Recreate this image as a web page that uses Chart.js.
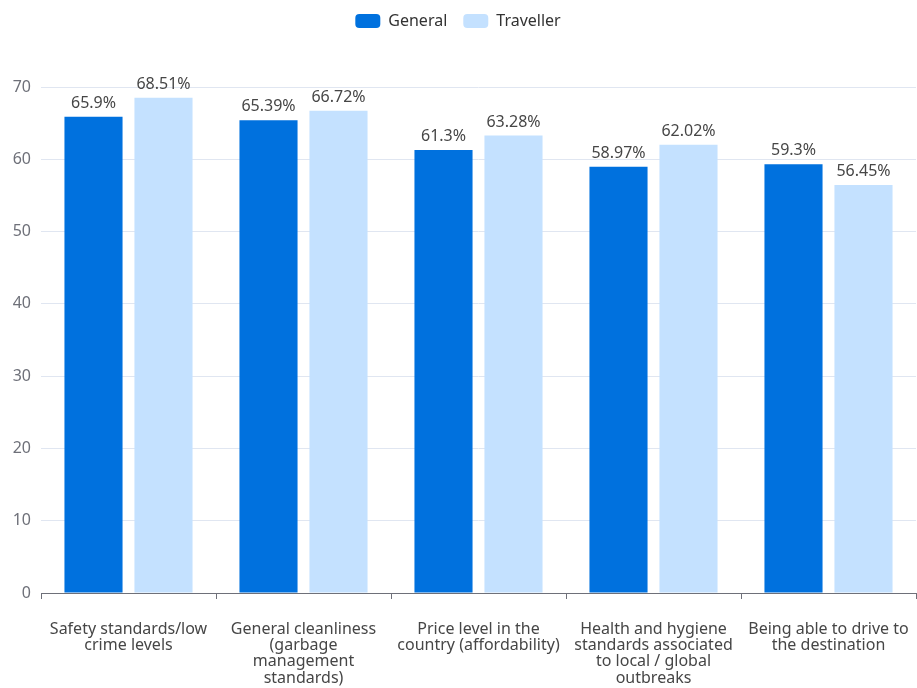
<!DOCTYPE html>
<html>
<head>
<meta charset="utf-8">
<script src="https://cdn.jsdelivr.net/npm/chart.js@4.4.1/dist/chart.umd.min.js"></script>
<style>
  html, body { margin: 0; padding: 0; background: #fff; }
  #wrap { width: 917px; height: 688px; }
</style>
</head>
<body>
<div id="wrap"><canvas id="barChart"></canvas></div>
<script>
var categorias = [
    ['Safety standards/low', 'crime levels'],
    ['General cleanliness', '(garbage', 'management', 'standards)'],
    ['Price level in the', 'country (affordability)'],
    ['Health and hygiene', 'standards associated', 'to local / global', 'outbreaks'],
    ['Being able to drive to', 'the destination']
];
var general   = [65.9, 65.39, 61.3, 58.97, 59.3];
var traveller = [68.51, 66.72, 63.28, 62.02, 56.45];
var ticksY    = [0, 10, 20, 30, 40, 50, 60, 70];

var fuente = '"Noto Sans", sans-serif';

// etiquetas de valor encima de cada barra
var etiquetasValor = {
    id: 'etiquetasValor',
    afterDatasetsDraw: function(chart) {
        var ctx = chart.ctx;
        ctx.save();
        ctx.font = '16px ' + fuente;
        ctx.fillStyle = '#464646';
        ctx.textAlign = 'center';
        ctx.textBaseline = 'alphabetic';
        chart.data.datasets.forEach(function(ds, i) {
            var meta = chart.getDatasetMeta(i);
            meta.data.forEach(function(bar, j) {
                ctx.fillText(ds.data[j] + '%', bar.x, bar.y - 9);
            });
        });
        ctx.restore();
    }
};

// espacio extra debajo de la leyenda
var margenLeyenda = {
    id: 'margenLeyenda',
    beforeInit: function(chart) {
        var fitOriginal = chart.legend.fit;
        chart.legend.fit = function() {
            fitOriginal.call(this);
            this.height += 48;
        };
    }
};

function generarGrafica() {
    var canvas = $id('barChart').getContext('2d');

    new Chart(canvas, {
        type: 'bar',
        data: {
            labels: categorias,
            datasets: [
                { label: 'General',   data: general,   backgroundColor: '#0071de' },
                { label: 'Traveller', data: traveller, backgroundColor: '#c4e1ff' }
            ]
        },
        options: {
            responsive: true,
            maintainAspectRatio: false,
            animation: false,
            layout: { padding: { top: -3, right: 1, left: 0, bottom: 0 } },
            categoryPercentage: 0.8,
            barPercentage: 0.83,
            plugins: {
                legend: {
                    position: 'top',
                    labels: {
                        boxWidth: 25,
                        boxHeight: 14,
                        useBorderRadius: true,
                        borderRadius: 4,
                        color: '#333',
                        padding: 16,
                        font: { family: fuente, size: 16 }
                    }
                },
                tooltip: { enabled: false }
            },
            scales: {
                x: {
                    grid: {
                        offset: true,
                        drawOnChartArea: false,
                        tickLength: 6,
                        color: '#6e7079'
                    },
                    border: { color: '#6e7079' },
                    ticks: {
                        color: '#464646',
                        padding: 22,
                        maxRotation: 0,
                        autoSkip: false,
                        font: { family: fuente, size: 16, lineHeight: 1.02 }
                    },
                    afterFit: function(scale) {
                        scale.height = 95;
                        scale.paddingLeft = 0;
                        scale.paddingRight = 0;
                    }
                },
                y: {
                    min: 0,
                    max: 70,
                    afterBuildTicks: function(scale) {
                        scale.ticks = ticksY.map(function(v) { return { value: v }; });
                    },
                    grid: { color: '#e0e6f1', drawTicks: false },
                    border: { display: false },
                    ticks: {
                        color: '#6e7079',
                        padding: 10,
                        font: { family: fuente, size: 16 }
                    },
                    afterFit: function(scale) { scale.width = 41; }
                }
            }
        },
        plugins: [etiquetasValor, margenLeyenda]
    });
}

function $id(id) { return document.getElementById(id); }

generarGrafica();
</script>
</body>
</html>
